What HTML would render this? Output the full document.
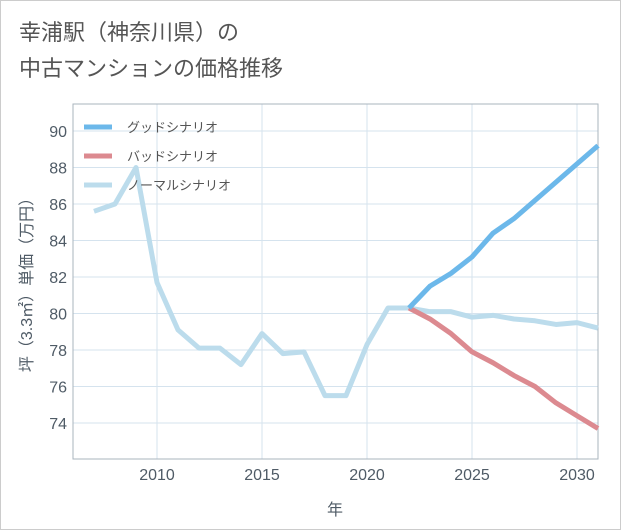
<!DOCTYPE html>
<html><head><meta charset="utf-8"><style>
body{margin:0;background:#fff;}
#wrap{position:relative;width:621px;height:530px;box-sizing:border-box;border:1px solid #ccc;background:#fff;font-family:"Liberation Sans","Noto Sans CJK JP",sans-serif;}
#title{position:absolute;left:18px;top:14px;font-size:22px;line-height:36px;color:#555;}
svg{position:absolute;left:0;top:0;}
</style></head><body>
<div id="wrap">
<div id="title">幸浦駅（神奈川県）の<br>中古マンションの価格推移</div>
<svg id="c" width="621" height="530"></svg>
</div>
<script>
const years=[2007,2008,2009,2010,2011,2012,2013,2014,2015,2016,2017,2018,2019,2020,2021,2022,2023,2024,2025,2026,2027,2028,2029,2030,2031];
const normal=[85.6,86.0,88.0,81.7,79.1,78.1,78.1,77.2,78.9,77.8,77.9,75.5,75.5,78.3,80.3,80.3,80.1,80.1,79.8,79.9,79.7,79.6,79.4,79.5,79.2];
const goodYears=[2022,2023,2024,2025,2026,2027,2028,2029,2030,2031];
const good=[80.3,81.5,82.2,83.1,84.4,85.2,86.2,87.2,88.2,89.2];
const bad=[80.3,79.7,78.9,77.9,77.3,76.6,76.0,75.1,74.4,73.7];
const xTicks=[2010,2015,2020,2025,2030];
const yTicks=[74,76,78,80,82,84,86,88,90];
const L=72,R=597,T=103,B=458;
const x=v=>156+(v-2010)*21;
const y=v=>130+(90-v)*18.25;
const svg=document.getElementById('c');
const NS='http://www.w3.org/2000/svg';
function mk(t,a){const e=document.createElementNS(NS,t);for(const k in a)e.setAttribute(k,a[k]);svg.appendChild(e);return e;}
xTicks.forEach(t=>{const l=mk('line',{x1:x(t),x2:x(t),y1:T,y2:B,stroke:'#d5e3ee','stroke-width':1});


const tx=mk('text',{x:x(t),y:B+21,'text-anchor':'middle','font-size':16,fill:'#4f5b66'});tx.textContent=t;

});
yTicks.forEach(t=>{const l=mk('line',{x1:L,x2:R,y1:y(t),y2:y(t),stroke:'#d5e3ee','stroke-width':1});


const tx=mk('text',{x:L-6,y:y(t)+6,'text-anchor':'end','font-size':16,fill:'#4f5b66'});tx.textContent=t;

});
const fr=mk('rect',{x:L,y:T,width:R-L,height:B-T,fill:'none',stroke:'#aab4bd','stroke-width':1});


function line(xs,vs,col,name){const p=mk('polyline',{points:xs.map((v,i)=>x(v)+','+y(vs[i])).join(' '),fill:'none',stroke:col,'stroke-width':5,'stroke-linejoin':'round'});

}
line(years,normal,'#bcdcec','normal-scenario-line');
line(goodYears,bad,'#dc8a90','bad-scenario-line');
line(goodYears,good,'#6cb8ea','good-scenario-line');
const leg=[['グッドシナリオ','#6cb8ea'],['バッドシナリオ','#dc8a90'],['ノーマルシナリオ','#bcdcec']];
leg.forEach((d,i)=>{const yy=126+i*29;
const l=mk('line',{x1:83,x2:111,y1:yy,y2:yy,stroke:d[1],'stroke-width':5});


const t=mk('text',{x:126,y:yy+5,'font-size':13,fill:'#555'});t.textContent=d[0];

});
const xt=mk('text',{x:334,y:514,'text-anchor':'middle','font-size':16,fill:'#4f5b66'});xt.textContent='年';


const yt=mk('text',{x:0,y:0,'text-anchor':'middle','font-size':16,fill:'#4f5b66',transform:'translate(31,280) rotate(-90)'});yt.textContent='坪（3.3㎡）単価（万円）';


</script>
</body></html>
